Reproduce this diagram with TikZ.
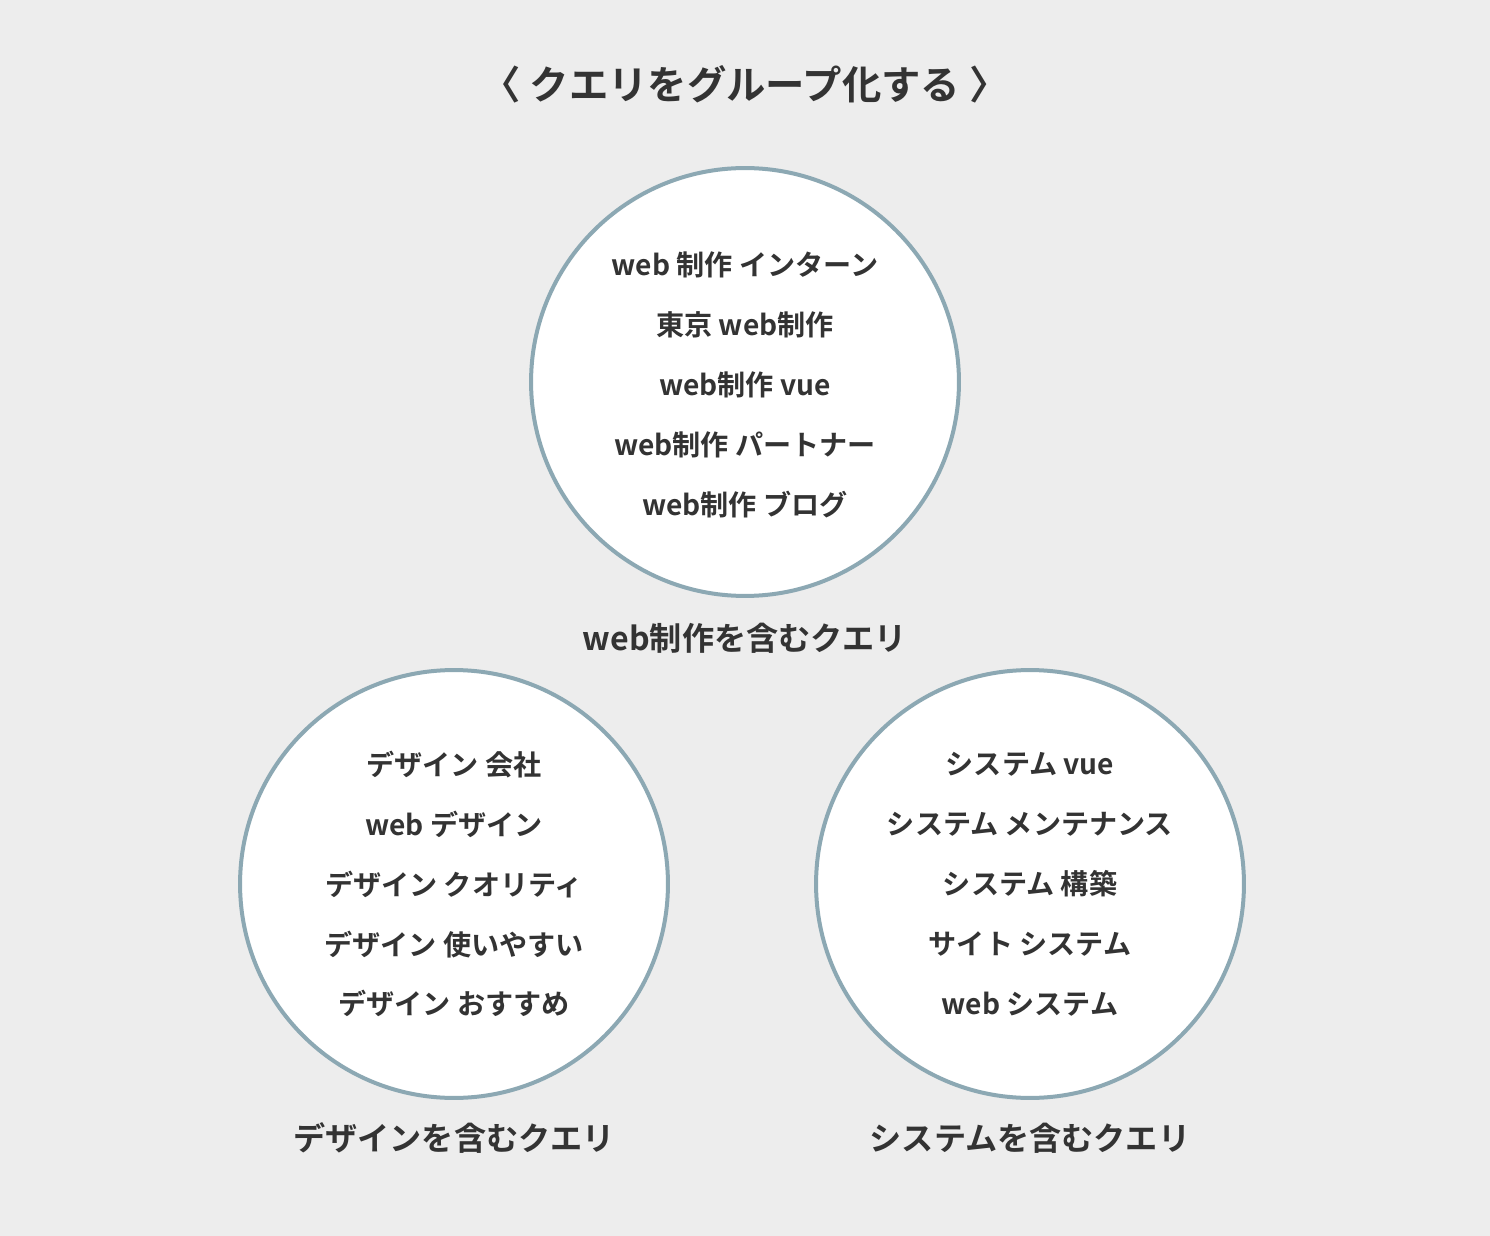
\documentclass[tikz,border=0pt]{standalone}
\usepackage{fontspec}
\setmainfont{Noto Sans CJK JP}[BoldFont={* Bold}]
\usetikzlibrary{positioning}
\definecolor{bggray}{HTML}{EDEDED}
\definecolor{ringblue}{HTML}{8CA8B3}
\definecolor{inkgray}{HTML}{333333}

\begin{document}
\begin{tikzpicture}[x=0.02cm,y=-0.02cm]
        \tikzset{QueryGroup/.style = {circle,
            draw          = ringblue,
            line width    = 0.08cm,
            fill          = white,
            minimum size  = 8.56cm,
            inner sep     = 0pt},
          QueryList/.style = {inner sep = 0pt,
            align         = center,
            text          = inkgray,
            yshift        = -0.06cm,
            font          = \fontsize{16pt}{34.1pt}\selectfont\bfseries},
          GroupLabel/.style = {inner sep = 0pt,
            text  = inkgray,
            font  = \fontsize{18.3pt}{22pt}\selectfont\bfseries}}
        \fill[bggray] (0,0) rectangle (1490,1236);
        \useasboundingbox (0,0) rectangle (1490,1236);
        \node[GroupLabel, font=\fontsize{22.4pt}{26pt}\selectfont\bfseries]
          (Title) at (745,84) {〈 クエリをグループ化する 〉};
        % web制作
        \node[QueryGroup] (GWeb) at (745,382) {};
        \node[QueryList] (QWeb) at (GWeb)
          {web 制作 インターン\\東京 web制作\\web制作 vue\\web制作 パートナー\\web制作 ブログ};
        \node[GroupLabel] (LWeb) at (745,638) {web制作を含むクエリ};
        % デザイン
        \node[QueryGroup] (GDesign) at (454,884) {};
        \node[QueryList, yshift=0.06cm] (QDesign) at (GDesign)
          {デザイン 会社\\web デザイン\\デザイン クオリティ\\デザイン 使いやすい\\デザイン おすすめ};
        \node[GroupLabel] (LDesign) at (454,1138) {デザインを含むクエリ};
        % システム
        \node[QueryGroup] (GSystem) at (1030,884) {};
        \node[QueryList, yshift=0.06cm] (QSystem) at (GSystem)
          {システム vue\\システム メンテナンス\\システム 構築\\サイト システム\\web システム};
        \node[GroupLabel] (LSystem) at (1030,1138) {システムを含むクエリ};
\end{tikzpicture}
\end{document}
